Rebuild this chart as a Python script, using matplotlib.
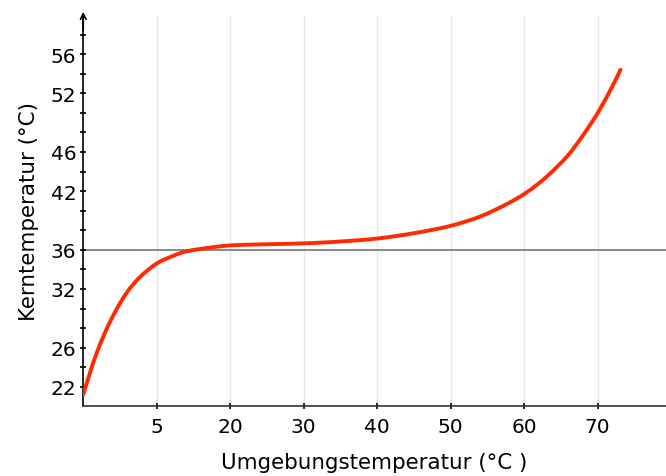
import matplotlib
matplotlib.use("Agg")
import matplotlib.pyplot as plt
from matplotlib.path import Path
from matplotlib.patches import PathPatch

# values
umgebung = [0, 0.9, 1.8, 3.0, 4.3, 5.9, 7.7, 10, 12.3, 14.1, 17, 20, 24, 27,
            29.5, 34, 40, 45.4, 50, 54, 57.7, 60.4, 63.1, 65.9, 68.1, 70.1,
            72.0, 73.1]
kern = [21.2, 23.4, 25.4, 27.6, 29.6, 31.6, 33.2, 34.6, 35.4, 35.85, 36.2,
        36.45, 36.55, 36.6, 36.65, 36.8, 37.15, 37.75, 38.45, 39.4, 40.7, 41.9,
        43.5, 45.6, 47.8, 50.1, 52.7, 54.4]

x_ticks = [10, 20, 30, 40, 50, 60, 70]
x_labels = ["5", "20", "30", "40", "50", "60", "70"]
y_ticks = list(range(22, 60, 2))
y_labeled = [22, 26, 32, 36, 42, 46, 52, 56]
referenz = 36


def smooth_path(xs, ys):
    # Catmull-Rom through the read points, drawn as cubic Bezier segments
    pts = list(zip(xs, ys))
    verts = [pts[0]]
    codes = [Path.MOVETO]
    for i in range(len(pts) - 1):
        p0 = pts[i - 1] if i > 0 else pts[i]
        p1 = pts[i]
        p2 = pts[i + 1]
        p3 = pts[i + 2] if i + 2 < len(pts) else pts[i + 1]
        c1 = (p1[0] + (p2[0] - p0[0]) / 6, p1[1] + (p2[1] - p0[1]) / 6)
        c2 = (p2[0] - (p3[0] - p1[0]) / 6, p2[1] - (p3[1] - p1[1]) / 6)
        verts += [c1, c2, p2]
        codes += [Path.CURVE4] * 3
    return Path(verts, codes)


fig = plt.figure(figsize=(6.66, 4.77), dpi=100)
ax = fig.add_axes([0.125, 0.146, 0.875, 0.8205])

ax.set_xlim(0, 79.3)
ax.set_ylim(20, 60)

for xt in x_ticks:
    ax.axvline(xt, color="#e8e8e8", lw=1, zorder=0)
ax.axhline(referenz, color="#777777", lw=1.2, zorder=1)
ax.add_patch(PathPatch(smooth_path(umgebung, kern), facecolor="none",
                       edgecolor="#ff2a00", lw=2.8, capstyle="round",
                       joinstyle="round", zorder=3))

ax.set_xticks(x_ticks)
ax.set_xticklabels(x_labels)
ax.set_yticks(y_ticks)
ax.set_yticklabels([str(v) if v in y_labeled else "" for v in y_ticks])
ax.tick_params(axis="both", direction="inout", length=5, width=1.2,
               labelsize=14.5, colors="black")
ax.tick_params(axis="x", pad=5)
ax.tick_params(axis="y", pad=2.5)

for s in ["top", "right"]:
    ax.spines[s].set_visible(False)
ax.spines["left"].set_linewidth(1.2)
ax.spines["bottom"].set_linewidth(1.2)
ax.spines["bottom"].set_color("#333333")

ax.annotate("", xy=(0, 1.008), xytext=(0, 0.96), xycoords="axes fraction",
            arrowprops=dict(arrowstyle="->", lw=1.2, color="black",
                            shrinkA=0, shrinkB=0))

ax.set_xlabel("Umgebungstemperatur (°C )", fontsize=15.4, labelpad=12)
ax.set_ylabel("Kerntemperatur (°C)", fontsize=15.4, labelpad=8)

plt.savefig("out.png", dpi=100)
